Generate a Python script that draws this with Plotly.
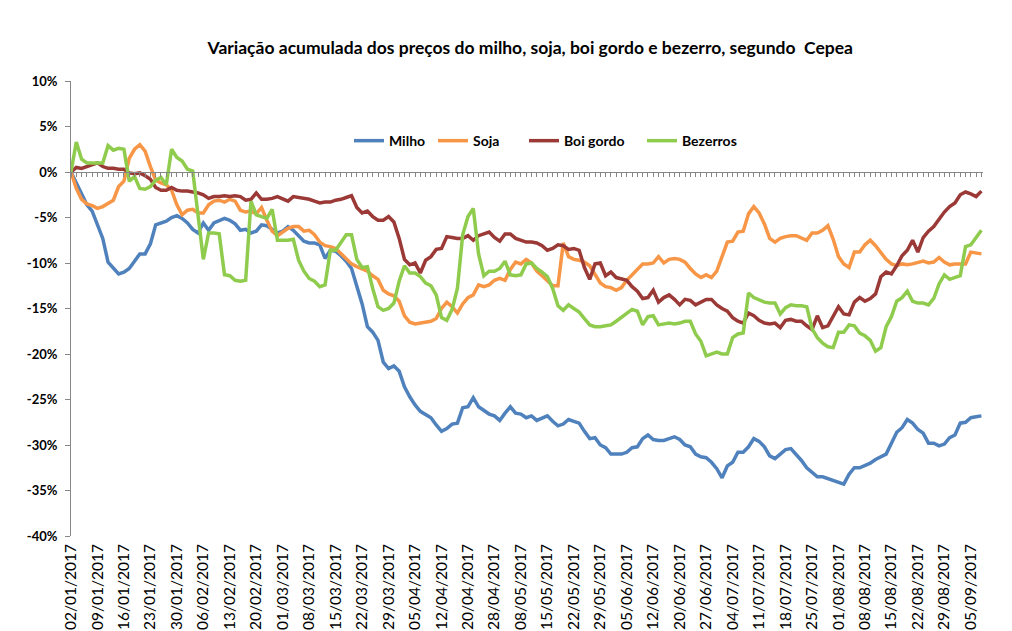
import pandas as pd
import plotly.graph_objects as go

# ---- categories (Brazilian business days, 2017) ----
holidays = ["2017-02-27", "2017-02-28", "2017-04-14", "2017-04-21",
            "2017-05-01", "2017-06-15", "2017-09-07"]
dates = pd.bdate_range("2017-01-02", "2017-09-08", freq="C", holidays=holidays)
date_labels = [d.strftime("%d/%m/%Y") for d in dates]

# ---- series (accumulated variation, %) ----
milho = [0, -1.2, -2.6, -3.6, -4.3, -5.8, -7.3, -9.9, -10.6,
         -11.2, -11.0, -10.6, -9.8, -9.0, -9.0, -7.9, -5.8, -5.6, -5.4, -5.0, -4.8, -5.1, -5.6, -6.3, -6.7, -5.6,
         -6.4, -5.6, -5.4, -5.1, -5.3, -5.7, -6.4, -6.3, -6.7, -6.5, -5.8, -5.9, -6.3, -6.7, -6.5, -6.0, -6.4,
         -7.0, -7.6, -7.8, -7.8, -8.0, -9.5, -8.6, -8.7, -9.2, -9.8, -10.6, -12.5, -14.5, -17.0, -17.6, -18.5, -20.9,
         -21.6, -21.3, -21.9, -23.6, -24.7, -25.6, -26.3, -26.7, -27.0, -27.8, -28.5, -28.2, -27.7, -27.6, -25.9, -25.8, -24.8,
         -25.8, -26.2, -26.6, -26.8, -27.3, -26.5, -25.8, -26.5, -26.6, -27.0, -26.8, -27.3, -27.0, -26.8, -27.4, -27.9, -27.7,
         -27.2, -27.4, -27.6, -28.5, -29.3, -29.2, -30.0, -30.3, -31.0, -31.0, -31.0, -30.8, -30.3, -30.2, -29.3, -28.9, -29.4,
         -29.5, -29.5, -29.3, -29.1, -29.4, -30.0, -30.2, -31.0, -31.3, -31.4, -31.9, -32.6, -33.6, -32.3, -31.9, -30.8, -30.8,
         -30.2, -29.3, -29.6, -30.2, -31.2, -31.5, -31.0, -30.5, -30.4, -31.0, -31.7, -32.5, -33.0, -33.5, -33.5, -33.7, -33.8,
         -34.1, -34.3, -33.2, -32.5, -32.5, -32.3, -32.0, -31.6, -31.3, -31.0, -29.8, -28.6, -28.1, -27.2, -27.6, -28.3, -28.7,
         -29.8, -29.8, -30.1, -29.9, -29.2, -28.9, -27.6, -27.5, -27.0, -26.9, -26.8]

soja = [0, -1.8, -3.0, -3.5, -3.7, -4.0, -3.8, -3.4, -3.1,
        -1.6, -1.0, 1.5, 2.5, 3.0, 2.3, 0.6, -0.9, -1.2, -1.4, -2.0, -3.6, -4.7, -4.2, -4.1, -4.5, -4.5,
        -3.6, -3.2, -3.1, -3.3, -3.0, -3.2, -4.2, -4.4, -4.3, -4.6, -3.9, -5.3, -6.5, -7.0, -6.6, -6.2, -6.0,
        -6.0, -6.5, -6.4, -6.9, -7.7, -8.1, -8.2, -8.4, -9.0, -9.6, -10.1, -10.4, -10.6, -10.9, -11.4, -11.8, -13.0,
        -13.4, -13.6, -14.2, -15.8, -16.5, -16.7, -16.6, -16.5, -16.4, -16.1, -15.0, -14.3, -14.8, -15.5, -14.5, -13.8, -13.5,
        -12.4, -12.6, -12.4, -11.9, -11.7, -11.9, -10.7, -9.9, -10.1, -9.6, -10.0, -10.9, -11.4, -12.0, -12.5, -12.5, -7.8,
        -9.3, -9.6, -9.7, -9.9, -10.3, -11.2, -12.2, -12.6, -12.7, -13.0, -12.7, -11.9, -11.3, -10.6, -10.1, -10.1, -10.0,
        -9.3, -10.0, -9.6, -9.5, -9.6, -9.9, -10.6, -11.2, -11.6, -11.3, -11.6, -10.9, -9.3, -7.7, -7.6, -6.6, -6.5,
        -4.6, -3.8, -4.5, -5.7, -7.3, -7.7, -7.3, -7.1, -7.0, -7.0, -7.2, -7.5, -6.7, -6.7, -6.4, -5.9, -7.4,
        -9.3, -10.1, -10.5, -8.8, -8.8, -8.0, -7.5, -8.1, -8.8, -9.6, -10.1, -10.3, -10.1, -10.2, -10.1, -9.9, -9.8,
        -10.0, -9.9, -9.4, -9.9, -10.2, -10.1, -10.1, -10.1, -8.8, -8.9, -9.0]

boi_gordo = [0, 0.5, 0.4, 0.6, 0.8, 1.0, 0.6, 0.4, 0.4,
             0.3, 0.3, -0.1, -0.2, -0.1, -0.4, -0.8, -1.7, -2.0, -2.0, -1.7, -2.0, -2.1, -2.1, -2.2, -2.3, -2.5,
             -2.9, -2.7, -2.7, -2.6, -2.7, -2.6, -2.7, -3.1, -3.0, -2.3, -3.0, -3.0, -2.9, -2.7, -3.0, -3.2, -2.7,
             -2.8, -2.9, -3.0, -3.2, -3.4, -3.3, -3.3, -3.1, -3.0, -2.8, -2.6, -3.9, -4.5, -4.3, -4.9, -5.3, -5.3,
             -4.9, -5.5, -7.3, -9.6, -10.2, -10.0, -11.1, -9.7, -9.3, -8.5, -8.4, -7.1, -7.2, -7.3, -7.3, -7.0, -7.5,
             -7.0, -6.8, -6.6, -7.2, -7.6, -6.8, -6.8, -7.3, -7.5, -7.7, -7.7, -7.8, -8.1, -8.6, -8.4, -8.0, -8.1,
             -8.5, -8.4, -8.6, -10.5, -11.8, -10.1, -10.0, -11.4, -11.0, -11.6, -11.8, -11.9, -12.6, -13.1, -13.9, -13.8, -13.0,
             -14.3, -13.8, -13.5, -14.0, -14.6, -14.0, -14.1, -14.6, -14.3, -14.0, -14.0, -14.6, -15.0, -15.3, -16.0, -16.4, -16.6,
             -15.5, -15.8, -16.3, -16.6, -16.7, -16.6, -17.1, -16.3, -16.2, -16.4, -16.4, -16.9, -17.3, -15.8, -17.1, -16.9, -15.8,
             -14.8, -15.6, -15.7, -14.3, -13.8, -14.2, -13.9, -13.4, -11.5, -11.0, -11.2, -10.3, -9.2, -8.6, -7.5, -8.8, -7.2,
             -6.5, -6.0, -5.2, -4.4, -3.8, -3.4, -2.5, -2.2, -2.4, -2.7, -2.1]

bezerros = [0, 3.3, 1.4, 1.0, 1.0, 1.0, 1.0, 2.9, 2.4,
            2.6, 2.5, -1.0, -0.5, -1.8, -1.9, -1.6, -0.9, -0.6, -1.4, 2.5, 1.6, 1.2, 0.3, 0.1, -4.5, -9.6,
            -6.7, -6.7, -6.8, -11.3, -11.4, -11.9, -12.0, -11.9, -3.2, -4.7, -4.9, -5.1, -4.1, -7.5, -7.5, -7.5, -7.4,
            -9.7, -10.9, -11.7, -12.0, -12.6, -12.4, -8.6, -8.6, -7.7, -6.9, -6.9, -9.6, -10.5, -10.4, -12.8, -14.8, -15.2,
            -15.0, -14.4, -12.0, -10.3, -11.1, -11.1, -11.5, -12.2, -12.5, -13.5, -16.0, -16.3, -15.1, -12.8, -6.9, -4.9, -4.0,
            -9.0, -11.4, -10.9, -10.9, -10.6, -9.8, -11.3, -11.4, -11.3, -10.1, -10.0, -10.6, -11.0, -11.5, -12.8, -14.7, -15.2,
            -14.6, -15.0, -15.4, -16.1, -16.8, -17.0, -17.0, -16.9, -16.8, -16.4, -16.0, -15.6, -15.1, -15.3, -16.8, -15.9, -15.8,
            -16.8, -16.7, -16.6, -16.7, -16.6, -16.4, -16.4, -17.8, -18.6, -20.2, -20.0, -19.8, -20.0, -20.0, -18.2, -17.8, -17.7,
            -13.3, -13.8, -14.1, -14.3, -14.4, -14.4, -15.6, -14.9, -14.6, -14.7, -14.7, -14.8, -17.2, -18.2, -18.8, -19.2, -19.3,
            -17.6, -17.6, -16.8, -16.9, -17.7, -18.0, -18.5, -19.7, -19.3, -17.0, -15.9, -14.2, -13.8, -13.1, -14.2, -14.4, -14.4,
            -14.6, -13.9, -12.3, -11.3, -11.8, -11.6, -11.4, -8.2, -8.0, -7.2, -6.4]

series_names = ["Milho", "Soja", "Boi gordo", "Bezerros"]
series_colors = ["#4F81BD", "#F79646", "#9B3936", "#8FCC4E"]
series_values = [milho, soja, boi_gordo, bezerros]
legend_ids = ["legend", "legend2", "legend3", "legend4"]
legend_x = [0.3048, 0.3969, 0.4967, 0.6261]

y_ticks = [10, 5, 0, -5, -10, -15, -20, -25, -30, -35, -40]
y_tick_text = ["<b>%d%%</b>" % v for v in y_ticks]
x_tick_labels = date_labels[::5]

FONT = "Lato"
fig = go.Figure()
for name, color, vals, lg in zip(series_names, series_colors, series_values, legend_ids):
    fig.add_trace(go.Scatter(x=date_labels, y=vals, name=name, mode="lines",
                             line=dict(color=color, width=3.5), legend=lg))
# carrier for the label axis
fig.add_trace(go.Scatter(x=date_labels, y=[None] * len(date_labels), xaxis="x2",
                         showlegend=False, hoverinfo="skip", mode="lines"))

legend_style = dict(orientation="h", xanchor="left", y=0.868, yanchor="middle",
                    font=dict(family=FONT, size=14, color="black", weight="bold"),
                    bgcolor="rgba(0,0,0,0)")
legends = {lg: dict(legend_style, x=lx) for lg, lx in zip(legend_ids, legend_x)}

fig.update_layout(
    width=1012, height=631,
    margin=dict(l=71, r=29, t=81, b=95),
    paper_bgcolor="white", plot_bgcolor="white",
    title=dict(text="<b>Variação acumulada dos preços do milho, soja, boi gordo e bezerro, segundo  Cepea</b>",
               x=0.524, xanchor="center", y=1 - 48 / 631, yanchor="middle",
               font=dict(family=FONT, size=17.5, color="black")),
    xaxis=dict(type="category", range=[0, 172.3], anchor="free", position=0.8,
               showline=True, linecolor="#868686", linewidth=1,
               ticks="outside", ticklen=4, tickcolor="#868686", tickwidth=1,
               tickvals=date_labels, showticklabels=False,
               showgrid=False, zeroline=False, automargin=False),
    xaxis2=dict(type="category", range=[0, 172.3], overlaying="x", anchor="y", side="bottom",
                tickvals=x_tick_labels, ticktext=x_tick_labels, tickangle=-90,
                showline=False, ticks="", showgrid=False, zeroline=False, automargin=False,
                ticklabelstandoff=4,
                tickfont=dict(family=FONT, size=15.5, color="black")),
    yaxis=dict(range=[-40, 10], tickvals=y_ticks, ticktext=y_tick_text,
               showline=True, linecolor="#868686", linewidth=1,
               ticks="outside", ticklen=5, tickcolor="#868686",
               showgrid=False, zeroline=False, automargin=False,
               ticklabelstandoff=5,
               tickfont=dict(family=FONT, size=13, color="black")),
)
fig.update_layout(**legends)

fig.write_html("out.html")
